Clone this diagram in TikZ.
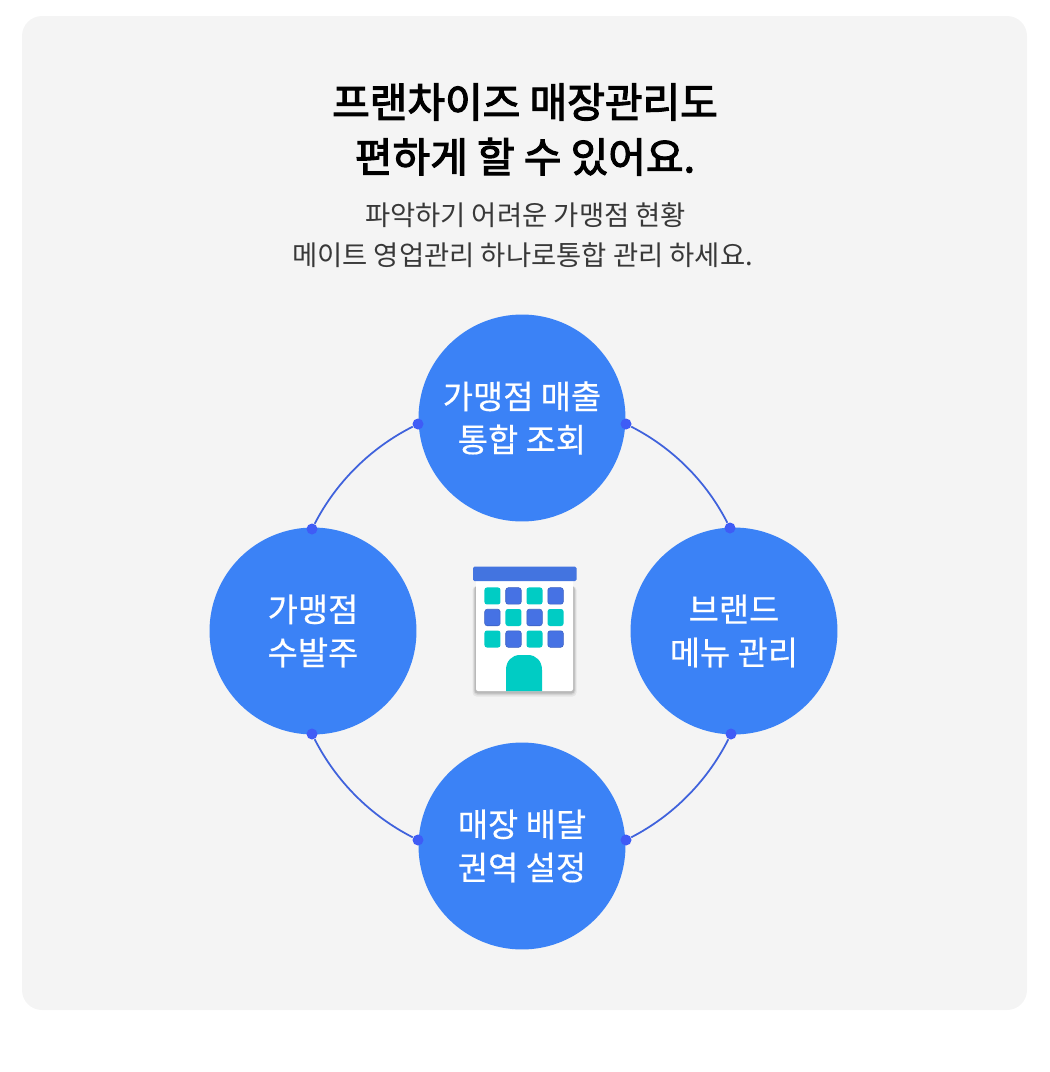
\documentclass[tikz,border=0pt]{standalone}
\usepackage{fontspec}
\usepackage{xcolor}
\setmainfont{Noto Sans CJK KR}
\newfontfamily\titlefont[FakeBold=2.8]{Noto Sans CJK KR}
\newfontfamily\topicfont[FakeBold=.4]{Noto Sans CJK KR}
\usetikzlibrary{matrix,calc}
\definecolor{panelgray}{HTML}{F4F4F4}
\definecolor{circblue}{HTML}{3B82F6}
\definecolor{dotblue}{HTML}{3F5CF6}
\definecolor{linkblue}{HTML}{3F62DC}
\definecolor{roofblue}{HTML}{4374E0}
\definecolor{winblue}{HTML}{4672E4}
\definecolor{winteal}{HTML}{00CCC4}
\tikzset{
    topic/.style={circle,fill=circblue,text=white,minimum size=4.14cm,inner sep=0pt,align=center,
        font=\topicfont\fontsize{18.7}{24.6}\selectfont},
    dot/.style={circle,fill=dotblue,minimum size=.22cm,inner sep=0pt},
    link/.style={draw=linkblue,line width=1pt,looseness=.87},
    wt/.style={fill=winteal,rounded corners=.05cm,minimum width=.32cm,minimum height=.34cm,inner sep=0pt},
    wb/.style={fill=winblue,draw=winblue!85!black,line width=.3pt,rounded corners=.05cm,minimum width=.31cm,minimum height=.33cm,inner sep=0pt}
}
\begin{document}
\begin{tikzpicture}[x=.02cm,y=-.02cm]
        \useasboundingbox (0,0) rectangle (1050,1072);
        \fill[panelgray,rounded corners=.4cm] (22,16) rectangle (1027,1010);

        \node (title) [align=center,font=\titlefont\fontsize{23.3}{31.2}\selectfont] at (525,129.5)
            {프랜차이즈 매장관리도\\편하게 할 수 있어요.};
        \node (subA) [text=black!78,font=\fontsize{15.6}{22.7}\selectfont] at (525.5,215) {파악하기 어려운 가맹점 현황};
        \node (subB) [text=black!78,font=\fontsize{15.6}{22.7}\selectfont] at (522.5,255) {메이트 영업관리 하나로통합 관리 하세요.};

        \node (sales) [topic] at (522,418) {가맹점 매출\\통합 조회};
        \node (brand) [topic] at (734,631) {브랜드\\메뉴 관리};
        \node (order) [topic] at (313,631) {가맹점\\수발주};
        \node (area) [topic] at (522,846) {매장 배달\\권역 설정};

        \node (d1) [dot] at (626,424) {};
        \node (d2) [dot] at (730,528) {};
        \node (d3) [dot] at (731,734) {};
        \node (d4) [dot] at (626,840) {};
        \node (d5) [dot] at (418,840) {};
        \node (d6) [dot] at (312,734) {};
        \node (d7) [dot] at (312,529) {};
        \node (d8) [dot] at (418,424) {};

        \draw[link] (d1) to[bend left=18] (d2);
        \draw[link] (d3) to[bend left=18] (d4);
        \draw[link] (d5) to[bend left=18] (d6);
        \draw[link] (d7) to[bend left=18] (d8);

        % building
        \fill[black,opacity=.06,rounded corners=.08cm] (472.5,586) rectangle (576.5,696.5);
        \fill[black,opacity=.08,rounded corners=.08cm] (473.5,586) rectangle (575.5,695);
        \fill[black,opacity=.12,rounded corners=.06cm] (474.5,586) rectangle (574.5,693.5);
        \fill[white,rounded corners=.04cm] (476,578) rectangle (573,691);
        \fill[roofblue,rounded corners=.03cm] (473,566.5) rectangle (576.5,581);
        \fill[winteal] (506,691) -- (506,670) .. controls (506,661) and (512,655) .. (520,655)
            -- (528,655) .. controls (536,655) and (542,661) .. (542,670) -- (542,691) -- cycle;

        \matrix (windows) [matrix of nodes,nodes in empty cells,column sep=.1cm,row sep=.09cm] at (524,617.5)
        {
            |[wt]| & |[wb]| & |[wt]| & |[wb]| \\
            |[wb]| & |[wt]| & |[wb]| & |[wt]| \\
            |[wt]| & |[wb]| & |[wt]| & |[wb]| \\
        };
    \end{tikzpicture}
\end{document}
